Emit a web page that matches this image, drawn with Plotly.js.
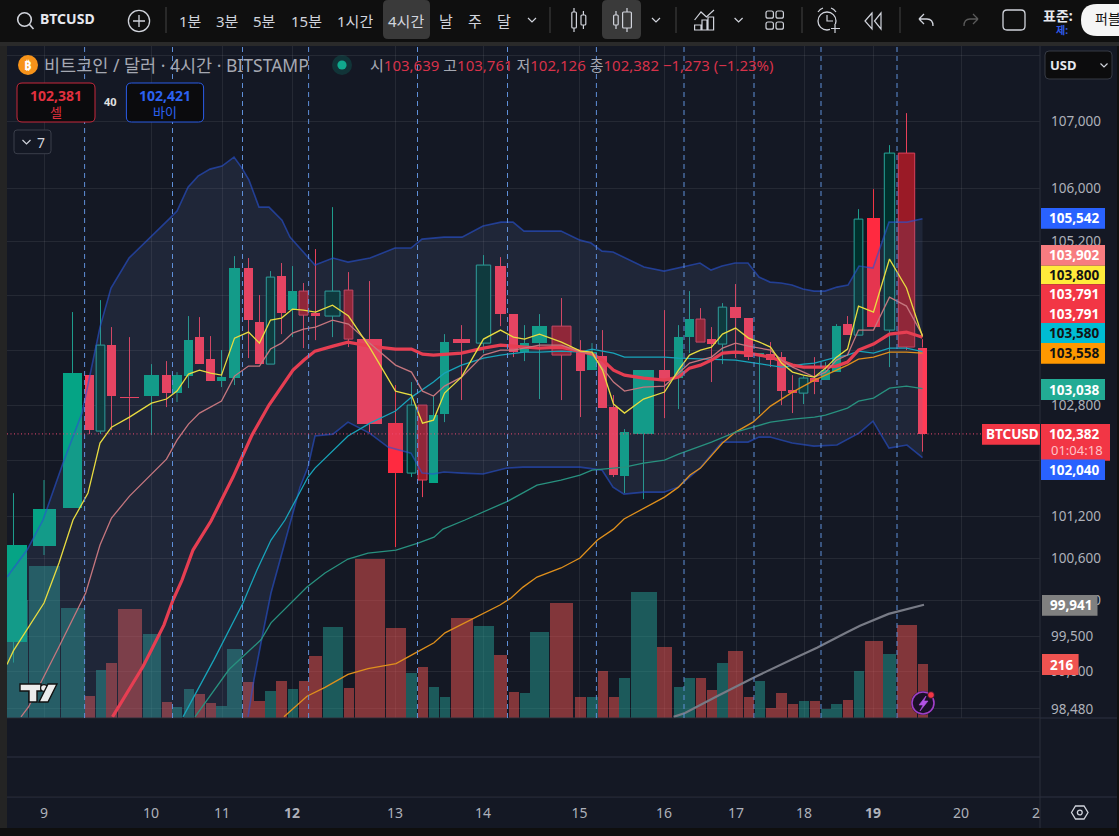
<!DOCTYPE html>
<html><head><meta charset="utf-8">
<script src="https://cdn.plot.ly/plotly-3.0.1.min.js"></script>
<style>html,body{margin:0;padding:0;background:#0f0f0f;overflow:hidden}#chart{width:1119px;height:836px}</style>
</head><body><div id="chart"></div>
<script>
// ---------- data ----------
const slot = [13.5,44,72.5,89.5,100.5,111.5,129.5,151.5,166.5,177,188.5,199.5,210.5,221.5,234.5,248.5,259.5,270.5,281.5,292.5,303.5,315.5,332.5,348.5,369.5,395.5,411.5,422.5,433.5,444.5,461.5,483.5,500.5,513.5,524.5,539.5,561.5,580.5,592,602.5,613.5,624.5,643.5,664.5,678.5,689.5,700.5,711.5,722.5,735.5,748.5,759.5,770.5,781.5,792.5,803.5,814.5,825.5,836.5,847.5,858.5,873.5,889.5,906.5,922.5];
const bodyW = [26,23,19,9.3,8.7,9.3,19,15,9,10,9,9,9,9,11,9,9,8.4,9,9,9,9,15,8.7,25,15.3,8.7,9,9,9,17,14.4,11,9,9,15,19,9,10,9,9,9,21,11,9,9,9,9,8.4,11,9,9,9,9,9,8.7,9,9,9,9,8.7,13,10.4,16.4,9];
const slotW = [29,31,24,10,10,10.4,24,18,10,10.5,10,10,10,10.4,14.4,11,10.4,10.4,10.4,10,10,12.4,20,10,30,20,10.4,10,10,10,22,20,13,10,10,19,23,11.4,11,10,10,11,26,15,10,11,10,10,10.5,14.5,10,10,10,10.4,10,10,10,10,10.4,10,10,18,12.4,20,10];
const kind = "gggrGrrgrggrrggrrGrgRrGRrBGRggrGrrggRrgrrggrggRrGrrgrrrGrggrGBGRr".split("");
const open = [99419,100773,101315,103236,102423,103675,102924,102931,103236,102974,103222,103792,103470,103149,103193,104810,104013,103397,104691,104189,104469,104145,104101,104484,103763,102538,101817,102800,101674,102669,103763,103704,104839,104130,103573,103704,103953,103573,103309,103514,102771,101774,102379,103309,103193,103792,104057,103763,103690,104233,104071,103514,103543,103499,103018,102974,103193,103164,103280,103983,103821,105552,103895,106526,103639];
const high = [101529,101717,104160,103236,104336,103939,103792,103397,103441,103280,104101,104086,103807,103602,104987,104958,104410,104765,104884,104839,104588,105091,105716,104750,104617,103091,103135,102800,102931,103836,103968,105002,104972,104130,103968,104130,104366,103748,103704,103895,102946,102452,103309,104189,103968,104469,104218,103939,104292,104573,104071,103558,103719,103573,103236,103222,103499,103426,103983,104101,105686,105985,106646,107129,103761];
const low = [99127,100645,101315,102379,102379,102437,102437,102365,102771,102844,103047,103397,103149,103062,103091,103485,103397,103397,103836,103792,103631,103748,103792,103646,102408,100759,101760,101472,101674,102553,102873,103558,103953,103499,103441,102888,102873,102626,103309,102756,101760,101529,101443,102611,102742,103558,103719,103135,103397,103485,103456,102669,103353,102800,102684,102815,102959,103164,103280,103821,103821,103939,103353,103602,102126];
const close = [100787,101300,103266,102437,103675,102931,102902,103236,102974,103236,103748,103397,103149,103207,104810,104042,103397,104676,104145,104469,104115,104101,104469,103763,102524,101817,102800,101717,102655,103719,103704,104854,104130,103573,103704,103953,103529,103295,103573,102756,101789,102408,103309,103149,103792,104057,103719,103690,104233,104071,103499,103558,103456,103003,102974,103193,103135,103309,103953,103821,105537,103939,106526,103646,102382];
const volume = [472,608,440,88,192,220,436,336,64,44,116,96,60,48,276,144,68,108,148,116,148,248,364,120,636,360,180,204,124,84,400,368,252,104,100,344,460,84,84,188,84,160,504,284,124,160,160,112,220,268,84,148,40,100,56,68,68,36,56,72,188,308,256,372,216];

const fastX = [7,13.5,44,59,73,88,100,111.5,129.5,151.5,166.5,177,188.5,199.5,210.5,221.5,234.5,248.5,259.5,270.5,281.5,292.5,303.5,315.5,332.5,348.5,369.5,395.5,411.5,422.5,433.5,444.5,461.5,483.5,500.5,513.5,524.5,539.5,561.5,580.5,592,602.5,613.5,624.5,643.5,664.5,678.5,689.5,700.5,711.5,722.5,735.5,748.5,759.5,770.5,781.5,792.5,803.5,814.5,825.5,836.5,847.5,858.5,873.5,889.5,906.5,922.5];
const fastY = [99100,99294,99965,100532,101144,101529,102250,102480,102626,102829,102888,103003,103251,103309,103266,103236,103777,103866,103704,104042,104071,104204,104189,104160,104262,104101,103646,103003,102945,102538,102582,102974,103207,103763,103895,103792,103763,103836,103719,103587,103573,103309,102815,102684,102888,102989,103309,103529,103602,103646,103836,103925,103777,103719,103646,103412,103280,103236,103207,103338,103499,103617,104248,104160,104943,104514,103800];
const roseX = [21,28.5,59,85.7,100,111.5,129.5,166.5,177,188.5,199.5,221.5,234.5,248.5,259.5,270.5,281.5,292.5,303.5,315.5,332.5,348.5,369.5,395.5,411.5,422.5,433.5,444.5,461.5,483.5,500.5,513.5,539.5,561.5,580.5,592,602.5,613.5,624.5,643.5,664.5,678.5,689.5,700.5,711.5,722.5,735.5,748.5,759.5,770.5,781.5,792.5,814.5,825.5,836.5,847.5,858.5,873.5,889.5,906.5,922.5];
const roseY = [98370,98507,99350,100106,100787,101172,101486,102018,102293,102524,102684,102858,103222,103368,103368,103617,103704,103851,103910,103939,104042,103983,103704,103382,103280,103003,102931,103076,103207,103529,103602,103602,103675,103675,103573,103543,103338,103135,103003,103062,103076,103266,103412,103456,103499,103631,103704,103660,103631,103602,103456,103353,103207,103280,103456,103529,103895,103895,104380,104248,103821];
const basisX = [112.5,143,151.5,164,173,182,193,211,233,252,269,293,304,315,333,348,369.5,395.5,411.5,422.5,433.5,444.5,461.5,483.5,500.5,524.5,539.5,561.5,580.5,592,602.5,613.5,624.5,643.5,664.5,678.5,689.5,700.5,711.5,722.5,735.5,748.5,759.5,770.5,781.5,792.5,803.5,814.5,825.5,836.5,847.5,858.5,873.5,889.5,906.5,922.5];
const basisY = [98370,99072,99308,99657,100007,100289,100716,101130,101760,102365,102800,103309,103456,103587,103660,103719,103660,103617,103617,103543,103529,103543,103558,103631,103675,103646,103631,103646,103587,103543,103456,103309,103236,103193,103164,103207,103338,103382,103456,103558,103573,103558,103529,103499,103441,103382,103353,103353,103353,103368,103426,103602,103690,103836,103866,103791];
const cyanX = [183,214,243,257,271,285,308,315,348,370,395.5,411.5,433.5,444.5,461.5,483.5,500.5,524.5,539.5,561.5,580.5,592,602.5,613.5,624.5,643.5,664.5,678.5,700.5,735.5,748.5,770.5,781.5,803.5,814.5,836.5,847.5,858.5,873.5,889.5,906.5,922.5];
const cyanY = [98370,99169,99965,100432,100858,101144,101760,101889,102351,102538,102713,102916,103135,103266,103382,103485,103529,103573,103573,103587,103573,103617,103587,103558,103499,103499,103499,103485,103470,103456,103426,103382,103353,103397,103412,103499,103529,103587,103558,103631,103631,103580];
const greenX = [195,229,261,271,307,325,348,368,396,418,434,443,465,508,537,561,580,592,613.5,624.5,643.5,664.5,678.5,690,711.5,735.5,759.5,770.5,792.5,814.5,825.5,847.5,858.5,873.5,889.5,906.5,922.5];
const greenY = [98370,99030,99447,99685,100190,100389,100588,100673,100716,100815,100900,101014,101144,101415,101644,101717,101789,101860,101889,101903,101961,102004,102090,102148,102264,102408,102509,102553,102597,102626,102655,102756,102858,102902,103047,103076,103038];
const orangeX = [284,307,325,348,368,396,416,434,445,471,500,511,523,537,561,580,597.5,613.5,624,664.5,678.5,690,700.5,722.5,735.5,753,770.5,792.5,814.5,836.5,847.5,858.5,873.5,889.5,906.5,922.5];
const orangeY = [98370,98657,98781,98961,99044,99114,99266,99405,99545,99727,99937,100036,100190,100332,100461,100602,100858,101014,101158,101472,101615,101789,101889,102250,102408,102553,102785,102989,103164,103309,103382,103470,103499,103573,103573,103558];
const grayX = [673.6,685,717,756,796,817,846,860,888.6,924];
const grayY = [98370,98424,98657,98933,99197,99336,99545,99643,99811,99941];
const upperX = [7,27,43,63,82,100,111,129,170,177,188,198,210,222,234,242,249,259,269,282,290,304,315,333,348,370,395,411,422,444,462,483,501,513,524,561,580,591,602,613,624,644,664,683,700,711,722,735,748,759,770,781,792,803,814,825,837,848,859,873,889,907,922.5];
const upperY = [100332,100716,101144,101961,102684,103939,104514,104958,105552,105656,106015,106180,106285,106330,106465,106300,106120,105716,105716,105522,105269,105032,104854,104958,104898,104958,105106,105106,105239,105269,105269,105433,105492,105492,105358,105358,105224,105180,105061,105047,104972,104825,104765,104825,104884,104780,104839,104884,104884,104676,104602,104588,104558,104499,104469,104469,104528,104558,104839,104810,105492,105492,105542];
const lowerX = [7,230,248,254,261,271,282,291,300,308,315,333,348,369.5,388,411,422,433,444,462,483,507,523,561,580,602,613,624,644,664,678,700,722,748,759,770,792,814,837,859,873,889,907,922.5];
const lowerY = [97500,97500,98370,98892,99405,100106,100673,101144,101615,101903,102351,102379,102553,102394,102192,102104,101817,101803,101832,101817,101803,101889,101903,101903,101903,101860,101615,101515,101543,101543,101615,101889,102264,102264,102336,102336,102250,102206,102221,102394,102567,102177,102221,102040];

const priceTicks = [108000,107000,106000,105200,104400,103600,102800,102000,101200,100600,100000,99500,99000,98480];
const priceLabels = ["","107,000","106,000","105,200","","","102,800","","101,200","100,600","100,000","99,500","99,000","98,480"];
const dayTicks = [44,151,222,292,395,483,579.5,664,736,804,873,961];
const dayLabels = ["9","10","11","<b>12</b>","13","14","15","16","17","18","<b>19</b>","20"];
const sessionMarks = [84.6,172.5,242.5,308.6,417.5,507.5,596.4,684,754,821,897];

// ---------- page geometry ----------
const W=1119,H=836,L=7,R=1040,T=46,B=797,PB=718;
const X=p=>(p-L)/(R-L), Y=p=>(B-p)/(B-T);
const FONT='"Noto Sans","Noto Sans CJK KR",sans-serif';
const UI='#d1d4dc', BG='#141824', GRID='rgba(255,255,255,0.075)', TICK='#aeb1ba';
const yr=[Math.log10(98354),Math.log10(108150)];

// ---------- traces ----------
const traces=[];
const styles={
  g:{fill:'#05a485',line:'#05a485',wick:'#1e9c8c',lw:0},
  G:{fill:'#00302c',line:'#26a69a',wick:'#1e9c8c',lw:1},
  r:{fill:'#ff3c56',line:'#ff3c56',wick:'#e8405a',lw:0},
  B:{fill:'#ff2a40',line:'#ff2a40',wick:'#f23645',lw:0},
  R:{fill:'#9a1a26',line:'#d8405a',wick:'#e8405a',lw:1}
};
const isUp=i=>kind[i]==='g'||kind[i]==='G';
// volume
traces.push({type:'bar',xaxis:'x',yaxis:'y2',x:slot,y:volume,width:slotW,
  marker:{color:slot.map((_,i)=>isUp(i)?'rgba(38,166,154,0.47)':'rgba(239,83,80,0.5)'),line:{width:0}},hoverinfo:'skip'});
// candles
Object.keys(styles).forEach(k=>{
  const s=styles[k],idx=kind.map((c,i)=>c===k?i:-1).filter(i=>i>=0);
  traces.push({type:'bar',xaxis:'x',yaxis:'y3',
    x:idx.map(i=>slot[i]),width:idx.map(i=>bodyW[i]),
    base:idx.map(i=>Math.min(open[i],close[i])),
    y:idx.map(i=>Math.abs(open[i]-close[i])),
    marker:{color:s.fill,line:{color:s.line,width:s.lw}},hoverinfo:'skip'});
  const wx=[],wy=[];
  idx.forEach(i=>{
    wx.push(slot[i],slot[i],null,slot[i],slot[i],null);
    wy.push(high[i],Math.max(open[i],close[i]),null,Math.min(open[i],close[i]),low[i],null);
  });
  traces.push({type:'scatter',mode:'lines',xaxis:'x',yaxis:'y3',x:wx,y:wy,line:{color:s.wick,width:1},hoverinfo:'skip'});
});
// band fill + lines
traces.push({type:'scatter',mode:'lines',xaxis:'x',yaxis:'y4',
  x:upperX.concat(lowerX.slice().reverse()),y:upperY.concat(lowerY.slice().reverse()),
  fill:'toself',fillcolor:'rgba(95,112,161,0.16)',line:{width:0},hoverinfo:'skip'});
const addLine=(x,y,color,width)=>traces.push({type:'scatter',mode:'lines',xaxis:'x',yaxis:'y4',x,y,line:{color,width},hoverinfo:'skip'});
addLine(upperX,upperY,'rgba(41,82,210,0.62)',1.6);
addLine(lowerX.slice(2),lowerY.slice(2),'rgba(41,82,210,0.62)',1.6);
addLine(grayX,grayY,'#787b86',2.2);
addLine(orangeX,orangeY,'#e0901c',1.3);
addLine(greenX,greenY,'#28917f',1.3);
addLine(cyanX,cyanY,'#18a4ba',1.3);
addLine(basisX,basisY,'#e63e52',3.2);
addLine(roseX,roseY,'#c5767e',1.3);
addLine(fastX,fastY,'#e8dc40',1.3);

// ---------- chrome ----------
const shapes=[],ann=[];
const rect=(x0,y0,x1,y1,fill,line,lw,layer)=>shapes.push({type:'rect',xref:'paper',yref:'paper',x0:X(x0),x1:X(x1),y0:Y(y1),y1:Y(y0),fillcolor:fill,line:{color:line||fill,width:lw===undefined?0:lw},layer:layer||'above'});
const conv=d=>d.replace(/(-?[\d.]+)[ ,](-?[\d.]+)/g,(m,a,b)=>X(+a)+','+Y(+b));
const path=(d,stroke,lw,fill)=>shapes.push({type:'path',xref:'paper',yref:'paper',path:conv(d),line:{color:stroke||'rgba(0,0,0,0)',width:lw===undefined?1.4:lw},fillcolor:fill||'rgba(0,0,0,0)',layer:'above'});
const circ=(cx,cy,r,stroke,lw,fill)=>shapes.push({type:'circle',xref:'paper',yref:'paper',x0:X(cx-r),x1:X(cx+r),y0:Y(cy+r),y1:Y(cy-r),line:{color:stroke||'rgba(0,0,0,0)',width:lw===undefined?1.4:lw},fillcolor:fill||'rgba(0,0,0,0)',layer:'above'});
const round=(x0,y0,x1,y1,r,stroke,lw,fill)=>path(`M${x0+r} ${y0} L${x1-r} ${y0} Q${x1} ${y0} ${x1} ${y0+r} L${x1} ${y1-r} Q${x1} ${y1} ${x1-r} ${y1} L${x0+r} ${y1} Q${x0} ${y1} ${x0} ${y1-r} L${x0} ${y0+r} Q${x0} ${y0} ${x0+r} ${y0} Z`,stroke,lw,fill);
const text=(t,x,y,size,color,anchor,bold)=>ann.push({text:bold?'<b>'+t+'</b>':t,xref:'paper',yref:'paper',x:X(x),y:Y(y),xanchor:anchor||'center',yanchor:'middle',showarrow:false,font:{family:FONT,size,color},borderpad:0,borderwidth:0});
const chev=(x,y,c)=>path(`M${x-4} ${y-2} L${x} ${y+2} L${x+4} ${y-2}`,c||UI,1.2);

// panels below traces
rect(0,42,W,46,'#2a2a2a',null,0,'below');
rect(0,46,7,828,'#242424',null,0,'below');
rect(R,46,1117,828,BG,null,0,'below');
rect(7,B,1117,828,BG,null,0,'below');
// lower pane + separators
rect(7,PB-0.5,1117,PB+0.5,'#2c3040');
rect(7,757-0.5,R,757+0.5,'#2c3040');
rect(7,B-0.5,1117,B+0.5,'#2c3040');
rect(R-0.5,46,R+0.5,828,'#2a2e3a');
rect(7,PB+1,R,B-0.5,BG,null,0,'below');

// session marks
sessionMarks.forEach(x=>shapes.push({type:'line',xref:'x',yref:'paper',x0:x,x1:x,y0:Y(PB),y1:1,line:{color:'#5f8fd8',width:1,dash:'5px,4px'},layer:'above'}));
// last price dotted line
shapes.push({type:'line',xref:'paper',yref:'y',x0:0,x1:X(982),y0:close[64],y1:close[64],line:{color:'#ee4a72',width:1,dash:'1px,2.5px'},layer:'above'});

// toolbar
rect(0,0,W,42,'#0f0f0f');
round(383,0,430,39,5,'#3a3a3a',0,'#3a3a3a');
round(602,0,641,39,5,'#3a3a3a',0,'#3a3a3a');
circ(24.5,19.5,6.8,UI,1.6);
path('M29.5 24.5 L33.5 29',UI,1.6);
text('BTCUSD',40,19,14,'#e6e8ee','left',true);
circ(139,21,10.6,UI,1.3);
path('M133 21 L145 21 M139 15 L139 27',UI,1.3);
[166,550,676,802,900].forEach(x=>path(`M${x} 7 L${x} 33`,'#444',1));
[['1분',190],['3분',227.5],['5분',264.6],['15분',306],['1시간',354.6],['4시간',406],['날',446],['주',475],['달',504]].forEach(a=>text(a[0],a[1],21,15,UI));
chev(532,20);
// candle style icons
round(571.8,12,576.4,28,1,UI,1.2); path('M574 8 L574 12 M574 28 L574 32',UI,1.2);
round(581,15,585.8,25,1,UI,1.2); path('M583.4 11 L583.4 15 M583.4 25 L583.4 29',UI,1.2);
round(613.6,15,618.2,25,1,UI,1.2); path('M616 11 L616 15 M616 25 L616 29',UI,1.2);
round(622.6,12,631.4,28,1,UI,1.2); path('M627 8 L627 12 M627 28 L627 32',UI,1.2);
chev(656,20);
path('M694.6 20 L701 12 L706.4 17 L714 10',UI,1.2);
path('M694.6 25 L701 25 L701 30 L694.6 30 Z M702 20 L707 20 L707 30 L702 30 Z M708 17 L713.6 17 L713.6 30 L708 30 Z',UI,1.2);
chev(738.6,20);
[[766,11],[776,11],[766,22],[776,22]].forEach(a=>round(a[0],a[1],a[0]+7.4,a[1]+7.2,2,UI,1.2));
circ(827,21,9,UI,1.3);
path('M827 15 L827 21 L833 21',UI,1.2);
path('M818 12 Q820 9 823 8 M836 12 Q834 9 831 8',UI,1.2);
rect(830,24,841,33,'#0f0f0f');
path('M835 24 L835 33 M831 28.5 L840 28.5',UI,1.2);
path('M872 13 L865 21 L872 29 Z M881 13 L874.5 21 L881 29 Z',UI,1.2);
path('M919 19 L924 14 M919 19 L924 24 M919 19 L927 19 Q933 19 933 26',UI,1.3);
path('M978 19 L973 14 M978 19 L973 24 M978 19 L970 19 Q964 19 964 26','#5a5a5a',1.3);
round(1003,10,1025,30,4,UI,1.3);
text('표준:',1043,15,14,'#e6e8ee','left',true);
text('제:',1062,30,10,'#2f5bea','center',true);
round(1081,4,1135,36,16,'#f5f5f5',0,'#f5f5f5');
text('퍼블',1095,19,14,'#111','left');

// legend header
circ(28,65,10,'#f7931a',0,'#f7931a');
text('₿',28,65,13,'#ffffff','center',true);
text('비트코인 / 달러 · 4시간 · BITSTAMP',43.6,65,17.5,'#a5a8b2','left');
circ(342,65,10,'rgba(8,153,129,0)',0,'rgba(8,153,129,0.22)');
circ(342,65,4.6,'#089981',0,'#10a98e');
const RED='#d7324a',GR='#a5a8b2',sp=(c,t)=>`<span style="color:${c}">${t}</span>`;
text(sp(GR,'시')+sp(RED,'103,639')+' '+sp(GR,'고')+sp(RED,'103,761')+' '+sp(GR,'저')+sp(RED,'102,126')+' '+sp(GR,'종')+sp(RED,'102,382')+' '+sp(RED,'−1,273 (−1.23%)'),370,65,15,RED,'left');
round(17,83,95,122,5,'#c8283c',1,'#0b0b0d');
text('102,381',56,96,14,'#e0303f','center',true);
text('셀',56,112,13,'#e0303f');
text('40',110,102,11,'#e0e0e0','center',true);
round(126.4,83,203.6,122,5,'#2b5ce6',1,'#0b0b0d');
text('102,421',165,96,14,'#2b62f0','center',true);
text('바이',165,112,13,'#2b62f0');
round(14,130,51,153.7,3,'#3a3e4a',1,'#141824');
path('M22.5 140 L26.5 144 L30.5 140',UI,1.2);
text('7',41,142,14,UI);
round(1045,51,1112,79,4,'#363a45',1,'#0c0c0d');
text('USD',1050,65,13,'#e6e8ee','left',true);
path('M1100.5 63.5 L1104 67 L1107.5 63.5',UI,1.2);

// logo
const logoEdge='#111';
path('M20 684 L41 684 L41 691 L37 691 L37 702 L29 702 L29 691 L20 691 Z',logoEdge,1.4,'#ececec');
circ(44,688,3.4,logoEdge,1.2,'#ececec');
path('M48 684 L57 684 L48 702 L39 702 Z',logoEdge,1.4,'#ececec');
// flash icon
circ(923,703,12,'#1a1028',0,'#1a1028');
circ(923,703,11,'#a040c8',1.6,'rgba(0,0,0,0)');
path('M926 696 L919 705 L923 705 L920 711 L928 701 L924 701 Z','#b452e6',0.6,'#b452e6');
circ(931,695,3.4,'#1a1028',0.8,'#f23645');
// settings hex
path('M1071.5 812.5 L1075.5 806 L1084 806 L1088 812.5 L1084 819 L1075.5 819 Z',UI,1.3);
circ(1079.8,812.5,2.4,UI,1.3);
// last day label
text('2',1036,812,14,TICK);

// price tags
const tag=(t,y0,y1,fill,color,x0,x1)=>{rect(x0||1041,y0,x1||1105,y1,fill);text(t,((x0||1041)+(x1||1105))/2+1,(y0+y1)/2,13.5,color,'center',true);};
tag('105,542',208,228.7,'#2962ff','#fff');
tag('103,902',245,265.7,'#f77c80','#fff');
tag('103,800',265.7,284.3,'#ffeb3b','#141414');
tag('103,791',284.3,304,'#f23645','#fff');
tag('103,791',304,323,'#f23645','#fff');
tag('103,580',323,343,'#00bcd4','#141414');
tag('103,558',343,363.7,'#ff9800','#141414');
tag('103,038',379,400,'#22ab94','#fff');
tag('BTCUSD',424,444.7,'#f23645','#fff',982,1040);
rect(1041,424,1110,460.7,'#f23645');
text('102,382',1074,434,13.5,'#fff','center',true);
text('01:04:18',1077,450,13,'#ffc2c8');
tag('102,040',459.5,480,'#2962ff','#fff');
tag('99,941',595,615.7,'#808080','#fff',1042,1097.5);
tag('216',654,675,'#ef5350','#fff',1042,1078.6);

const hidden={overlaying:'y',anchor:'x',showgrid:false,zeroline:false,showticklabels:false,ticks:'',showline:false};
const layout={
  width:W,height:H,autosize:false,showlegend:false,barmode:'overlay',bargap:0,
  margin:{l:L,r:W-R,t:T,b:H-B,pad:0},
  paper_bgcolor:'#0f0f0f',plot_bgcolor:BG,
  font:{family:FONT},
  xaxis:{type:'linear',range:[L,R],anchor:'free',position:0,tickmode:'array',tickvals:dayTicks,ticktext:dayLabels,
    showgrid:true,gridcolor:GRID,gridwidth:1,zeroline:false,showline:false,ticks:'',ticklabelstandoff:6,
    tickfont:{family:FONT,size:14,color:TICK}},
  yaxis:{type:'log',domain:[Y(PB),1],range:yr,anchor:'x',side:'right',tickmode:'array',tickvals:priceTicks,ticktext:priceLabels,
    showgrid:true,gridcolor:GRID,gridwidth:1,zeroline:false,showline:false,ticks:'',ticklabelstandoff:10,
    tickfont:{family:FONT,size:13.5,color:TICK}},
  yaxis2:Object.assign({type:'linear',range:[0,2688],side:'left'},hidden),
  yaxis3:Object.assign({type:'log',range:yr,side:'left'},hidden),
  yaxis4:Object.assign({type:'log',range:yr,side:'left'},hidden),
  shapes,annotations:ann
};
Plotly.newPlot('chart',traces,layout,{staticPlot:true,displayModeBar:false});
</script></body></html>
